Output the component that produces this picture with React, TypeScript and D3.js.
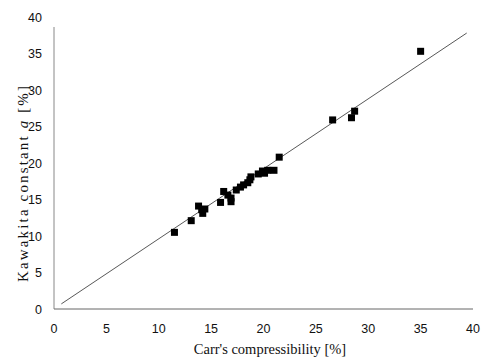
import React from 'react';
import * as d3 from 'd3';

// Data
const carr = [11.5, 13.1, 13.8, 14.1, 14.2, 14.4, 15.9, 16.2, 16.6, 16.9, 16.9, 17.4, 17.8, 18.1, 18.5, 18.7, 18.8, 19.5, 19.9, 20.1, 20.4, 21.0, 21.5, 26.6, 28.4, 28.7, 35.0];
const kawakita = [10.5, 12.1, 14.1, 13.6, 13.1, 13.7, 14.6, 16.1, 15.6, 15.2, 14.7, 16.3, 16.7, 17.0, 17.3, 17.7, 18.1, 18.5, 18.9, 18.6, 19.0, 19.0, 20.8, 25.9, 26.2, 27.1, 35.3];
const fitX = [0.7, 39.4];
const fitY = [0.7, 37.8];
const ticks = [0, 5, 10, 15, 20, 25, 30, 35, 40];

const W = 482;
const H = 361;

export default function App() {
  const x = d3.scaleLinear().domain([0, 40]).range([54, 473]);
  const y = d3.scaleLinear().domain([0, 40]).range([309, 17]);

  const line = d3.line<number>()
    .x((d, i) => x(fitX[i]))
    .y((d, i) => y(fitY[i]));

  const sans = 'Liberation Sans, Arial, sans-serif';
  const serif = 'Liberation Serif, Times New Roman, serif';

  return (
    <svg width={W} height={H} style={{ position: 'absolute', left: 0, top: 0, background: '#fff' }}>
      {/* axes */}
      <line x1={x(0)} x2={x(0)} y1={y(0)} y2={y(40) + 10} stroke="#888" strokeWidth={1} />
      <line x1={x(0)} x2={x(40)} y1={y(0)} y2={y(0)} stroke="#666" strokeWidth={1} />

      {ticks.map(t => (
        <text key={'y' + t} x={42} y={y(t) + 4.5} textAnchor="end" fontFamily={sans} fontSize={12.5} fill="#111">{t}</text>
      ))}
      {ticks.map(t => (
        <text key={'x' + t} x={x(t)} y={333} textAnchor="middle" fontFamily={sans} fontSize={12.5} fill="#111">{t}</text>
      ))}

      {/* fit line */}
      <path d={line(fitX) || ''} fill="none" stroke="#444" strokeWidth={0.9} />

      {/* points */}
      {carr.map((c, i) => (
        <rect key={i} x={x(c) - 3.5} y={y(kawakita[i]) - 3.5} width={7} height={7} fill="#000" />
      ))}

      <text x={270} y={354} textAnchor="middle" fontFamily={serif} fontSize={14.5} fill="#111">Carr's compressibility [%]</text>
      <text transform={`translate(28, 184) rotate(-90)`} textAnchor="middle" fontFamily={serif} fontSize={15} fill="#111"
        textLength={196} lengthAdjust="spacing">
        Kawakita constant <tspan fontStyle="italic">a</tspan> [%]
      </text>
    </svg>
  );
}
